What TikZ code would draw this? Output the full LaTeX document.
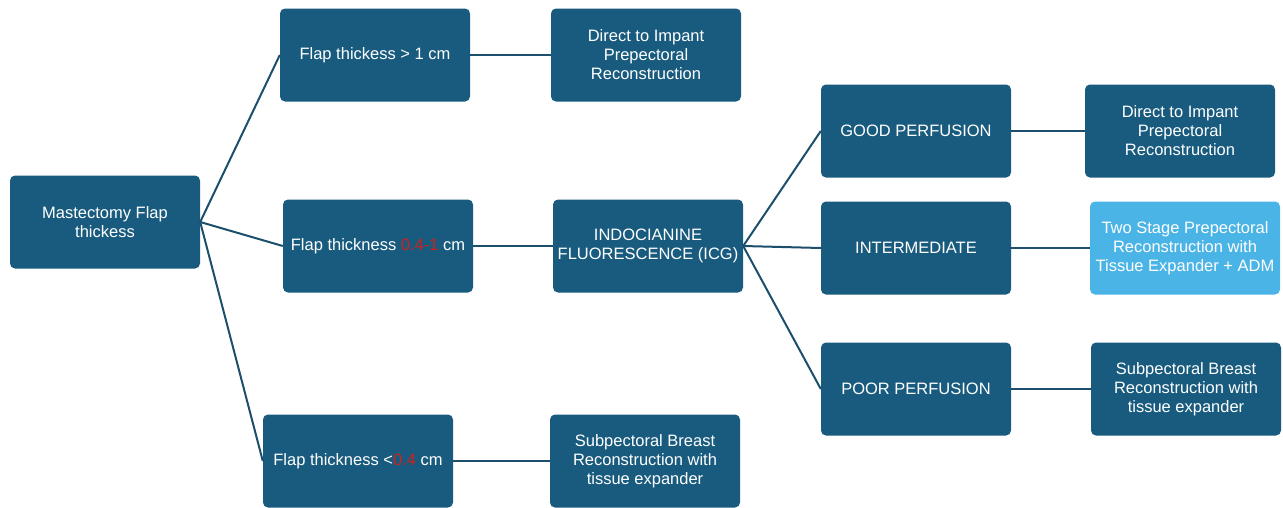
\documentclass[tikz,border=0pt]{standalone}
\usepackage{fontspec}
\setmainfont{Liberation Sans}
\definecolor{boxblue}{HTML}{185B7E}
\definecolor{lineblue}{HTML}{1B4F6C}
\definecolor{lightblue}{HTML}{4AB4E6}
\definecolor{redtxt}{HTML}{D0201E}
\tikzset{
  box/.style={fill=boxblue,rounded corners=5pt,minimum width=190pt,minimum height=93pt,
    text=white,align=center,inner sep=2pt},
  lightbox/.style={box,fill=lightblue},
  link/.style={draw=lineblue,line width=2pt}
}
\begin{document}
\begin{tikzpicture}[x=1pt,y=-1pt,font=\fontsize{16.5}{19}\selectfont]
\useasboundingbox (0,0) rectangle (1283,507);
\node[box] (mast) at (105,222) {Mastectomy Flap\\thickess};
\node[box] (thick) at (375,55) {Flap thickess > 1 cm};
\node[box] (direct) at (646,55) {Direct to Impant\\Prepectoral\\Reconstruction};
\node[box] (mid) at (378,246) {Flap thickness \textcolor{redtxt}{0.4-1} cm};
\node[box] (icg) at (648,246) {INDOCIANINE\\FLUORESCENCE (ICG)};
\node[box] (thin) at (358,461) {Flap thickness <\textcolor{redtxt}{0.4} cm};
\node[box] (subA) at (645,461) {Subpectoral Breast\\Reconstruction with\\tissue expander};
\node[box] (good) at (916,131) {GOOD PERFUSION};
\node[box] (inter) at (916,248) {INTERMEDIATE};
\node[box] (poor) at (916,389) {POOR PERFUSION};
\node[box] (directB) at (1180,131) {Direct to Impant\\Prepectoral\\Reconstruction};
\node[lightbox] (twostage) at (1185,248) {Two Stage Prepectoral\\Reconstruction with\\Tissue Expander + ADM};
\node[box] (subB) at (1186,389) {Subpectoral Breast\\Reconstruction with\\tissue expander};
% connectors
\foreach \n in {thick,mid,thin}
{
\draw[link] (mast.east)--(\n.west);
}
\foreach \n in {good,inter,poor}
{
\draw[link] (icg.east)--(\n.west);
}
\draw[link] (thick)--(direct);
\draw[link] (mid)--(icg);
\draw[link] (thin)--(subA);
\draw[link] (good)--(directB);
\draw[link] (inter)--(twostage);
\draw[link] (poor)--(subB);
\end{tikzpicture}
\end{document}
